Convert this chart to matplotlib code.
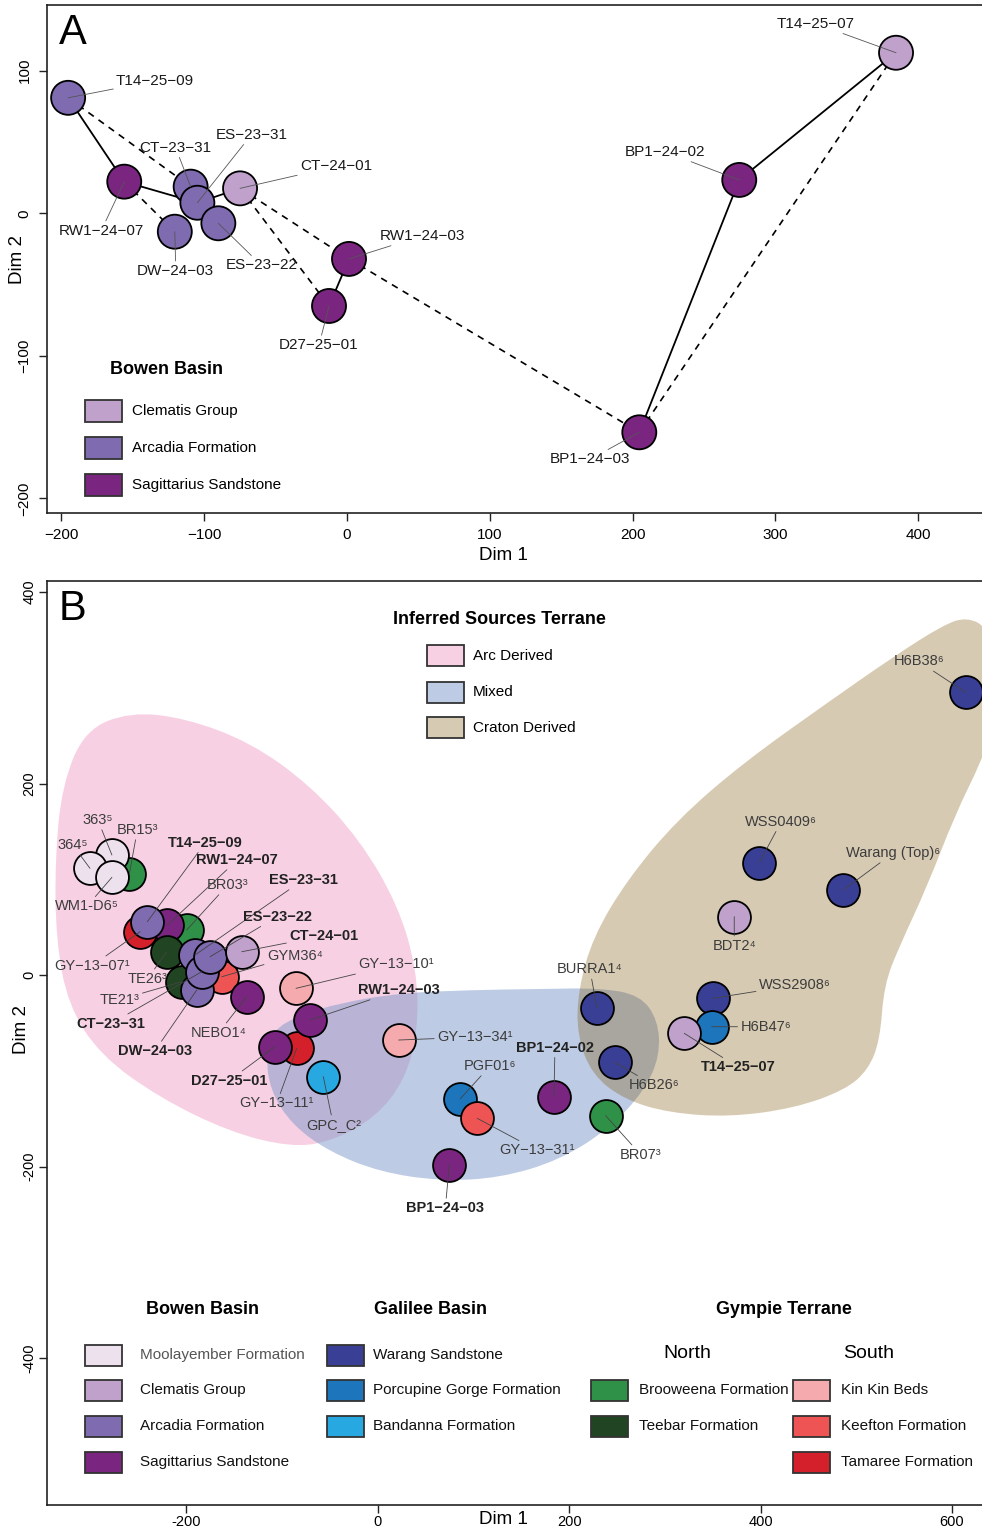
import numpy as np
import matplotlib
matplotlib.use("Agg")
import matplotlib.pyplot as plt
from matplotlib.path import Path
from matplotlib.patches import PathPatch, Rectangle

plt.rcParams['font.family'] = ['Liberation Sans', 'DejaVu Sans']

# unit colours
unit_colors = {
    'Moolayember Formation': '#EDE1EE',
    'Clematis Group': '#C0A1CC',
    'Arcadia Formation': '#7E6BB0',
    'Sagittarius Sandstone': '#7A2680',
    'Warang Sandstone': '#3A3F96',
    'Porcupine Gorge Formation': '#1D76BC',
    'Bandanna Formation': '#28A8E0',
    'Brooweena Formation': '#2F9147',
    'Teebar Formation': '#214523',
    'Kin Kin Beds': '#F5AAAD',
    'Keefton Formation': '#EE5454',
    'Tamaree Formation': '#D4202B',
}

# ---- panel A data ----
a_names = ['T14-25-09', 'RW1-24-07', 'CT-23-31', 'ES-23-31', 'CT-24-01', 'DW-24-03',
           'ES-23-22', 'RW1-24-03', 'D27-25-01', 'BP1-24-02', 'T14-25-07', 'BP1-24-03']
a_x = [-195.3, -156.0, -109.5, -104.8, -74.9, -120.6, -90.1, 1.4, -12.6, 274.7, 384.5, 204.7]
a_y = [81.0, 22.2, 18.7, 7.4, 17.5, -12.9, -7.0, -32.0, -65.0, 23.4, 112.6, -153.6]
a_unit = ['Arcadia Formation', 'Sagittarius Sandstone', 'Arcadia Formation', 'Arcadia Formation',
          'Clematis Group', 'Arcadia Formation', 'Arcadia Formation', 'Sagittarius Sandstone',
          'Sagittarius Sandstone', 'Sagittarius Sandstone', 'Clematis Group', 'Sagittarius Sandstone']
a_solid = [('T14-25-09', 'RW1-24-07'), ('RW1-24-07', 'ES-23-31'), ('ES-23-31', 'CT-24-01'),
           ('RW1-24-03', 'D27-25-01'), ('BP1-24-02', 'T14-25-07'), ('BP1-24-02', 'BP1-24-03')]
a_dashed = [('T14-25-09', 'CT-23-31'), ('RW1-24-07', 'DW-24-03'), ('CT-24-01', 'RW1-24-03'),
            ('CT-24-01', 'D27-25-01'), ('RW1-24-03', 'BP1-24-03'), ('BP1-24-03', 'T14-25-07')]
# label offsets (pixels)
a_offsets = [(87, 17), (-23, -49), (-15, 39), (54, 68), (96, 22), (1, -39),
             (43, -42), (73, 23), (-10, -39), (-74, 28), (-80, 29), (-49, -27)]

# ---- panel B data (drawing order) ----
b_names = ['BR15³', '363⁵', '364⁵', 'WM1-D6⁵', 'GY−13−07¹', 'BR03³', 'RW1−24−07', 'T14−25−09',
           'TE26³', 'TE21³', 'GYM36⁴', 'ES−23−31', 'DW−24−03', 'CT−23−31', 'ES−23−22',
           'CT−24−01', 'NEBO1⁴', 'GY−13−10¹', 'GY−13−11¹', 'RW1−24−03', 'D27−25−01', 'GPC_C²',
           'GY−13−34¹', 'PGF01⁶', 'GY−13−31¹', 'BP1−24−02', 'BR07³', 'BP1−24−03', 'BURRA1⁴',
           'H6B26⁶', 'H6B38⁶', 'WSS0409⁶', 'Warang (Top)⁶', 'BDT2⁴', 'WSS2908⁶', 'H6B47⁶',
           'T14−25−07']
b_x = [-259.3, -277.5, -300.4, -277.5, -248.1, -199.4, -219.6, -240.5,
       -220.3, -204.6, -162.8, -190.7, -188.9, -183.7, -175.0,
       -141.9, -136.7, -85.2, -84.5, -70.6, -107.2, -56.7,
       22.0, 86.1, 104.1, 184.2, 238.2, 74.9, 229.1,
       247.9, 614.2, 398.6, 486.4, 372.5, 350.0, 348.9, 320.3]
b_y = [105.5, 125.3, 111.4, 102.0, 45.2, 47.0, 52.2, 55.7,
       24.3, -7.0, -1.8, 20.9, -15.7, 3.4, 19.1,
       24.3, -22.7, -13.9, -76.6, -47.0, -74.9, -106.2,
       -67.9, -129.5, -149.7, -127.1, -146.9, -198.4, -34.8,
       -91.2, 295.2, 117.3, 88.8, 60.9, -24.3, -54.0, -60.9]
b_unit = ['Brooweena Formation', 'Moolayember Formation', 'Moolayember Formation',
          'Moolayember Formation', 'Tamaree Formation', 'Brooweena Formation',
          'Sagittarius Sandstone', 'Arcadia Formation', 'Teebar Formation', 'Teebar Formation',
          'Keefton Formation', 'Arcadia Formation', 'Arcadia Formation', 'Arcadia Formation',
          'Arcadia Formation', 'Clematis Group', 'Sagittarius Sandstone', 'Kin Kin Beds',
          'Tamaree Formation', 'Sagittarius Sandstone', 'Sagittarius Sandstone',
          'Bandanna Formation', 'Kin Kin Beds', 'Porcupine Gorge Formation', 'Keefton Formation',
          'Sagittarius Sandstone', 'Brooweena Formation', 'Sagittarius Sandstone',
          'Warang Sandstone', 'Warang Sandstone', 'Warang Sandstone', 'Warang Sandstone',
          'Warang Sandstone', 'Clematis Group', 'Warang Sandstone', 'Porcupine Gorge Formation',
          'Clematis Group']
b_this_study = ['RW1−24−07', 'T14−25−09', 'ES−23−31', 'DW−24−03', 'CT−23−31', 'ES−23−22',
                'CT−24−01', 'RW1−24−03', 'D27−25−01', 'BP1−24−02', 'BP1−24−03', 'T14−25−07']
b_offsets = [(8, 44), (-14, 35), (-17, 23), (-25, -29), (-48, -34), (41, 45), (70, 65), (58, 79),
             (-19, -27), (-62, -18), (73, 21), (108, 75), (-42, -61), (-91, -52), (67, 40),
             (82, 16), (-28, -36), (100, 24), (-20, -55), (89, 30), (-46, -34), (10, -48),
             (76, 3), (30, 33), (60, -32), (1, 49), (35, -39), (-4, -43), (-7, 39),
             (39, -23), (-47, 31), (22, 41), (50, 37), (0, -29), (82, 13), (54, 0), (54, -34)]

# source terrane outlines
arc_x = [-258.6, -201.1, -133.3, -70.6, -18.4, 21.3, 41.1, 42.2, 28.6, -2.7, -49.7, -91.5,
         -154.2, -227.3, -289.9, -323.3, -335.9, -336.9, -329.6, -305.6]
arc_y = [274.7, 268.4, 243.3, 198.4, 141.0, 73.1, 5.2, -57.4, -109.7, -149.3, -174.4, -179.6,
         -164.0, -128.5, -83.6, -31.3, 36.6, 120.1, 198.4, 255.9]
mixed_x = [-109.3, -81.0, -39.3, 23.4, 96.5, 169.6, 232.3, 274.0, 292.8, 294.9, 279.2, 242.7,
           190.5, 127.8, 65.2, 2.5, -49.7, -89.4, -112.4, -116.6]
mixed_y = [-57.4, -41.8, -29.2, -18.8, -15.7, -14.6, -13.6, -20.9, -47.0, -83.6, -120.1, -159.8,
           -193.2, -212.0, -215.1, -205.7, -184.9, -156.7, -120.1, -83.6]
craton_x = [590.5, 615.6, 637.5, 648.0, 641.7, 631.2, 603.0, 573.8, 545.6, 528.9, 524.8, 512.3,
            488.2, 436.0, 368.2, 305.5, 258.4, 224.0, 208.3, 209.4, 225.0, 260.5, 312.7, 381.6,
            469.4, 538.3]
craton_y = [365.5, 373.9, 362.4, 318.5, 255.9, 224.5, 167.1, 91.9, 31.3, -10.4, -67.9, -99.2,
            -120.1, -138.9, -148.3, -144.1, -130.5, -104.4, -62.7, -15.7, 39.7, 99.2, 161.9,
            221.4, 284.1, 332.1]
terranes = ['Arc Derived', 'Mixed', 'Craton Derived']
terrane_colors = ['#F1A4C8', '#7C98CB', '#7D5205']
terrane_alpha = [0.5, 0.5, 0.3]

W, H = 982, 1528


def fx(px):
    return px / W


def fy(py):
    return 1 - py / H


def smooth_outline(xs, ys):
    pts = np.column_stack([xs, ys])
    mids = (pts + np.roll(pts, -1, axis=0)) / 2
    verts = [mids[-1]]
    codes = [Path.MOVETO]
    for i in range(len(pts)):
        verts += [pts[i], mids[i]]
        codes += [Path.CURVE3, Path.CURVE3]
    return Path(verts, codes)


def legend_box(fig, x0, yc, color, w=37, h=21, alpha=1.0):
    fig.patches.append(Rectangle((fx(x0), fy(yc + h / 2)), w / W, h / H, transform=fig.transFigure,
                                 facecolor=color, alpha=alpha, edgecolor='none'))
    fig.patches.append(Rectangle((fx(x0), fy(yc + h / 2)), w / W, h / H, transform=fig.transFigure,
                                 facecolor='none', edgecolor='#333333', lw=1.3))


fig = plt.figure(figsize=(W / 100, H / 100), dpi=100)

# ================= panel A =================
axA = fig.add_axes([fx(47), fy(513), (987 - 47) / W, (513 - 5) / H])
axA.set_xlim(-210.1, 448.2)
axA.set_ylim(-210.2, 146.1)
axA.spines['right'].set_visible(False)
for s in axA.spines.values():
    s.set_linewidth(1.2)
    s.set_color('#222222')
pos = {n: (x, y) for n, x, y in zip(a_names, a_x, a_y)}
for p, q in a_solid:
    axA.plot([pos[p][0], pos[q][0]], [pos[p][1], pos[q][1]], color='black', lw=1.3, zorder=1)
for p, q in a_dashed:
    axA.plot([pos[p][0], pos[q][0]], [pos[p][1], pos[q][1]], color='black', lw=1.2,
             linestyle=(0, (4, 3.5)), zorder=1)
axA.scatter(a_x, a_y, s=600, c=[unit_colors[u] for u in a_unit], edgecolors='black',
            linewidths=1.3, zorder=3)
for n, x, y, off in zip(a_names, a_x, a_y, a_offsets):
    axA.annotate(n.replace('-', '−'), xy=(x, y), xytext=off, textcoords='offset pixels',
                 ha='center', va='center', fontsize=11, color='#1a1a1a', zorder=5,
                 arrowprops=dict(arrowstyle='-', color='#555555', lw=0.6, shrinkA=0, shrinkB=0))
axA.set_xticks([-200, -100, 0, 100, 200, 300, 400])
axA.set_yticks([-200, -100, 0, 100])
axA.tick_params(direction='out', length=6, width=1, labelsize=11, pad=5, color='#222222')
plt.setp(axA.get_yticklabels(), rotation=90, va='center')
fig.text(fx(503), fy(556), 'Dim 1', ha='center', va='center', fontsize=13.5)
fig.text(fx(18), fy(260), 'Dim 2', ha='center', va='center', fontsize=13.5, rotation=90)
fig.text(fx(73), fy(33), 'A', ha='center', va='center', fontsize=30)

fig.text(fx(166), fy(370), 'Bowen Basin', ha='center', va='center', fontsize=13, fontweight='bold')
for yc, u in zip([411, 448, 485], ['Clematis Group', 'Arcadia Formation', 'Sagittarius Sandstone']):
    legend_box(fig, 85, yc, unit_colors[u], h=22)
    fig.text(fx(132), fy(yc), u, ha='left', va='center', fontsize=11)

# ================= panel B =================
axB = fig.add_axes([fx(47), fy(1505), (987 - 47) / W, (1505 - 581) / H])
axB.set_xlim(-345.3, 636.5)
axB.set_ylim(-553.5, 411.5)
axB.spines['right'].set_visible(False)
for s in axB.spines.values():
    s.set_linewidth(1.2)
    s.set_color('#222222')
for xs, ys, col, al in zip([arc_x, mixed_x, craton_x], [arc_y, mixed_y, craton_y],
                           terrane_colors, terrane_alpha):
    axB.add_patch(PathPatch(smooth_outline(xs, ys), facecolor=col, edgecolor='none', alpha=al,
                            zorder=1))
for i, (x, y, u) in enumerate(zip(b_x, b_y, b_unit)):
    axB.scatter([x], [y], s=560, c=unit_colors[u], edgecolors='black', linewidths=1.3,
                zorder=3 + i * 0.01)
for n, x, y, off in zip(b_names, b_x, b_y, b_offsets):
    bold = n in b_this_study
    axB.annotate(n, xy=(x, y), xytext=off, textcoords='offset pixels', ha='center', va='center',
                 fontsize=10.5, fontweight='bold' if bold else 'normal',
                 color='#222222' if bold else '#3c3c3c', zorder=5,
                 arrowprops=dict(arrowstyle='-', color='#444444', lw=0.6, shrinkA=0, shrinkB=0))
axB.set_xticks([-200, 0, 200, 400, 600])
axB.set_xticklabels(['-200', '0', '200', '400', '600'])
axB.set_yticks([-400, -200, 0, 200, 400])
axB.set_yticklabels(['-400', '-200', '0', '200', '400'])
axB.tick_params(direction='out', length=6, width=1, labelsize=10.5, pad=1.5, color='#222222')
plt.setp(axB.get_yticklabels(), rotation=90, va='center')
fig.text(fx(503), fy(1519), 'Dim 1', ha='center', va='center', fontsize=13.5)
fig.text(fx(22), fy(1030), 'Dim 2', ha='center', va='center', fontsize=13.5, rotation=90)
fig.text(fx(73), fy(609), 'B', ha='center', va='center', fontsize=30)

fig.text(fx(499), fy(620), 'Inferred Sources Terrane', ha='center', va='center', fontsize=13,
         fontweight='bold')
for yc, t, col, al in zip([656, 692, 728], terranes, terrane_colors, terrane_alpha):
    legend_box(fig, 427, yc, col, alpha=al)
    fig.text(fx(473), fy(yc), t, ha='left', va='center', fontsize=11)

# bottom legend
fig.text(fx(202), fy(1310), 'Bowen Basin', ha='center', va='center', fontsize=13, fontweight='bold')
fig.text(fx(431), fy(1310), 'Galilee Basin', ha='center', va='center', fontsize=13, fontweight='bold')
fig.text(fx(784), fy(1309), 'Gympie Terrane', ha='center', va='center', fontsize=13,
         fontweight='bold')
fig.text(fx(687), fy(1354), 'North', ha='center', va='center', fontsize=14)
fig.text(fx(869), fy(1354), 'South', ha='center', va='center', fontsize=14)

legend_cols = [
    (85, 140, [1355, 1390, 1426, 1462],
     ['Moolayember Formation', 'Clematis Group', 'Arcadia Formation', 'Sagittarius Sandstone']),
    (327, 373, [1355, 1390, 1426],
     ['Warang Sandstone', 'Porcupine Gorge Formation', 'Bandanna Formation']),
    (591, 639, [1390, 1426], ['Brooweena Formation', 'Teebar Formation']),
    (793, 841, [1390, 1426, 1462], ['Kin Kin Beds', 'Keefton Formation', 'Tamaree Formation']),
]
for x0, xt, ycs, units in legend_cols:
    for yc, u in zip(ycs, units):
        legend_box(fig, x0, yc, unit_colors[u])
        fig.text(fx(xt), fy(yc), u, ha='left', va='center', fontsize=11,
                 color='#555555' if u == 'Moolayember Formation' else '#111111')

fig.savefig('out.png', dpi=100)
